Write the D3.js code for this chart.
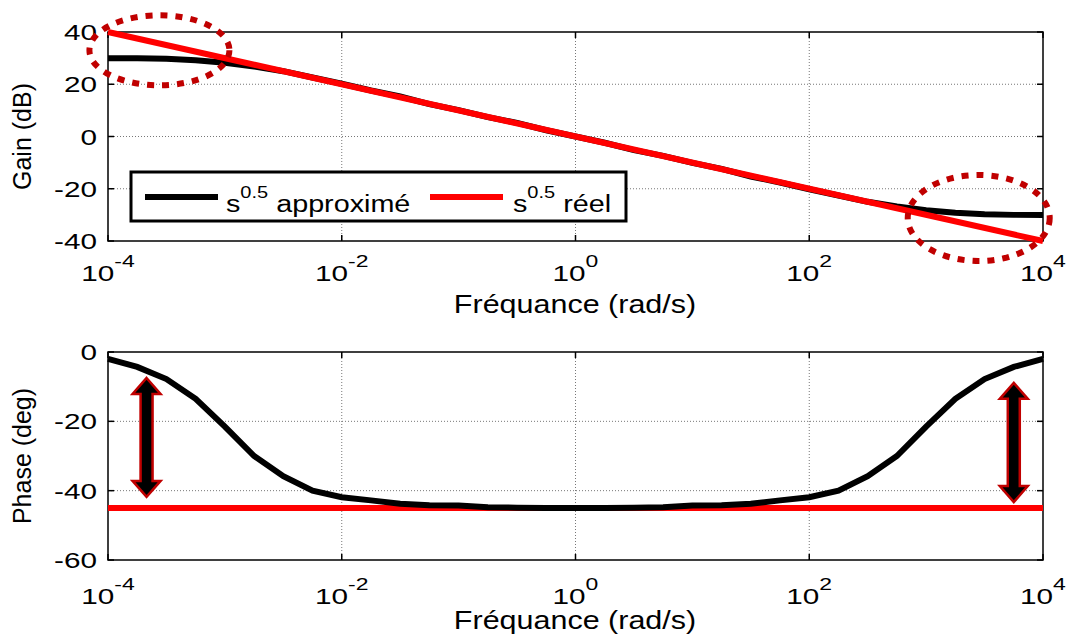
<!DOCTYPE html>
<html>
<head>
<meta charset="utf-8">
<script src="https://cdn.jsdelivr.net/npm/d3@7"></script>
<style>
  body { margin: 0; background: #fff; }
  text { font-family: "Liberation Sans", Arial, sans-serif; fill: #000; }
</style>
</head>
<body>
<div id="chart"></div>
<script>
var width = 1070;
var height = 636;

// frequency exponents (w = 10^e)
var freqExp = [-4, -3.75, -3.5, -3.25, -3, -2.75, -2.5, -2.25, -2, -1.75, -1.5, -1.25, -1, -0.75, -0.5, -0.25,
               0, 0.25, 0.5, 0.75, 1, 1.25, 1.5, 1.75, 2, 2.25, 2.5, 2.75, 3, 3.25, 3.5, 3.75, 4];

var gainApprox = [30, 30, 29.8, 29.2, 28.2, 26.8, 25.0, 22.6, 20.2, 17.6, 15.3, 12.4, 10.1, 7.4, 5.2, 2.4,
                  0, -2.4, -5.2, -7.4, -10.1, -12.4, -15.3, -17.6, -20.2, -22.6, -25.0, -26.8, -28.2, -29.2, -29.8, -30, -30];

var phaseApprox = [-2, -4.3, -7.8, -13.5, -21.5, -30, -35.8, -40, -41.9, -42.8, -43.8, -44.2, -44.3, -44.8, -44.9, -45,
                   -45, -45, -44.9, -44.8, -44.3, -44.2, -43.8, -42.8, -41.9, -40, -35.8, -30, -21.5, -13.5, -7.8, -4.3, -2];

// real s^0.5 (straight lines on log axis)
var realExp = [-4, 4];
var gainReal = [40, -40];
var phaseReal = [-45, -45];

var xTickExp = [-4, -2, 0, 2, 4];
var gainTicks = [-40, -20, 0, 20, 40];
var phaseTicks = [-60, -40, -20, 0];

var legendLabels = ["approximé", "réel"];

var svg = d3.select("#chart")
            .append("svg")
            .attr("width", width)
            .attr("height", height);

var left = 108, right = 1043;

var x = d3.scaleLog()
    .domain([1e-4, 1e4])
    .range([left, right]);

// the original figure is a bit stretched horizontally
function stretchedText(parent, px, py, sx, size, anchor) {
    return parent.append("text")
        .attr("transform", "translate(" + px + "," + py + ") scale(" + sx + ",1)")
        .attr("text-anchor", anchor)
        .style("font-size", size + "px");
}

function makePanel(top, bottom, yDomain, yTicks, gridVals, yLabel, titleY, tickLabelY) {
    var y = d3.scaleLinear().domain(yDomain).range([bottom, top]);
    var g = svg.append("g");

    // grid
    g.selectAll(".vgrid").data(xTickExp.slice(1, -1)).enter()
        .append("line")
        .attr("x1", function(d){ return x(Math.pow(10, d)); })
        .attr("x2", function(d){ return x(Math.pow(10, d)); })
        .attr("y1", top).attr("y2", bottom)
        .attr("stroke", "#777").attr("stroke-width", 1)
        .attr("stroke-dasharray", "1,2");
    g.selectAll(".hgrid").data(gridVals).enter()
        .append("line")
        .attr("x1", left).attr("x2", right)
        .attr("y1", function(d){ return y(d); })
        .attr("y2", function(d){ return y(d); })
        .attr("stroke", "#777").attr("stroke-width", 1)
        .attr("stroke-dasharray", "1,2");

    // box
    g.append("rect")
        .attr("x", left).attr("y", top)
        .attr("width", right - left).attr("height", bottom - top)
        .attr("fill", "none").attr("stroke", "#000").attr("stroke-width", 1.5);

    // ticks inside
    yTicks.forEach(function(t){
        g.append("line").attr("x1", left).attr("x2", left + 6)
            .attr("y1", y(t)).attr("y2", y(t)).attr("stroke", "#000").attr("stroke-width", 1.5);
        g.append("line").attr("x1", right).attr("x2", right - 6)
            .attr("y1", y(t)).attr("y2", y(t)).attr("stroke", "#000").attr("stroke-width", 1.5);
        stretchedText(g, 97, y(t) + 8, 1.35, 22, "end").text(t);
    });
    xTickExp.forEach(function(e){
        var px = x(Math.pow(10, e));
        g.append("line").attr("x1", px).attr("x2", px)
            .attr("y1", bottom).attr("y2", bottom - 6).attr("stroke", "#000").attr("stroke-width", 1.5);
        g.append("line").attr("x1", px).attr("x2", px)
            .attr("y1", top).attr("y2", top + 6).attr("stroke", "#000").attr("stroke-width", 1.5);
        var t = stretchedText(g, px, tickLabelY, 1.35, 22, "middle");
        t.append("tspan").text("10");
        t.append("tspan").attr("dy", -14).style("font-size", "17px").text(e);
    });

    stretchedText(g, 575, titleY, 1.22, 25, "middle").text("Fréquance (rad/s)");

    g.append("text")
        .attr("transform", "translate(31," + ((top + bottom) / 2) + ") rotate(-90)")
        .attr("text-anchor", "middle")
        .style("font-size", "25px")
        .text(yLabel);

    return y;
}

var yGain = makePanel(32, 241, [-40, 40], gainTicks, [-20, 0, 20], "Gain (dB)", 313, 281);
var yPhase = makePanel(352, 560, [-60, 0], phaseTicks, [-40, -20], "Phase (deg)", 629, 604);

var lineGain = d3.line()
    .x(function(d){ return x(Math.pow(10, d[0])); })
    .y(function(d){ return yGain(d[1]); });
var linePhase = d3.line()
    .x(function(d){ return x(Math.pow(10, d[0])); })
    .y(function(d){ return yPhase(d[1]); });

svg.append("path")
    .attr("d", lineGain(d3.zip(freqExp, gainApprox)))
    .attr("fill", "none").attr("stroke", "#000").attr("stroke-width", 6);
svg.append("path")
    .attr("d", lineGain(d3.zip(realExp, gainReal)))
    .attr("fill", "none").attr("stroke", "#ff0000").attr("stroke-width", 6);

svg.append("path")
    .attr("d", linePhase(d3.zip(realExp, phaseReal)))
    .attr("fill", "none").attr("stroke", "#ff0000").attr("stroke-width", 6);
svg.append("path")
    .attr("d", linePhase(d3.zip(freqExp, phaseApprox)))
    .attr("fill", "none").attr("stroke", "#000").attr("stroke-width", 6);

// legend
var leg = svg.append("g");
leg.append("rect")
    .attr("x", 131).attr("y", 172).attr("width", 495).attr("height", 49)
    .attr("fill", "#fff").attr("stroke", "#000").attr("stroke-width", 3);
[["#000", 145, 226], ["#ff0000", 430, 513]].forEach(function(it, i){
    leg.append("line").attr("x1", it[1]).attr("x2", it[1] + 73)
        .attr("y1", 197).attr("y2", 197)
        .attr("stroke", it[0]).attr("stroke-width", 6);
    var t = stretchedText(leg, it[2], 212, 1.25, 23, "start");
    t.append("tspan").text("s");
    t.append("tspan").attr("dy", -14).style("font-size", "16px").text("0.5");
    t.append("tspan").attr("dy", 14).text(" " + legendLabels[i]);
});

// dotted ellipses
svg.append("ellipse")
    .attr("cx", x(Math.pow(10, -3.56))).attr("cy", yGain(33))
    .attr("rx", 70).attr("ry", 35)
    .attr("fill", "none").attr("stroke", "#c00000").attr("stroke-width", 6)
    .attr("stroke-dasharray", "7,8");
svg.append("ellipse")
    .attr("cx", x(Math.pow(10, 3.45))).attr("cy", yGain(-31.2))
    .attr("rx", 71).attr("ry", 43)
    .attr("fill", "none").attr("stroke", "#c00000").attr("stroke-width", 6)
    .attr("stroke-dasharray", "7,8");

// double arrows
function dblArrow(cx, y1, y2) {
    var sw = 6, hw = 14, hl = 16;
    var pts = [
        [cx, y1], [cx + hw, y1 + hl], [cx + sw, y1 + hl], [cx + sw, y2 - hl],
        [cx + hw, y2 - hl], [cx, y2], [cx - hw, y2 - hl], [cx - sw, y2 - hl],
        [cx - sw, y1 + hl], [cx - hw, y1 + hl]
    ];
    svg.append("path")
        .attr("d", "M" + pts.join("L") + "Z")
        .attr("fill", "#000").attr("stroke", "#c00000").attr("stroke-width", 2.5)
        .attr("stroke-linejoin", "miter");
}
dblArrow(x(Math.pow(10, -3.67)), yPhase(-7.5), yPhase(-41.8));
dblArrow(x(Math.pow(10, 3.75)), yPhase(-8.9), yPhase(-43.3));
</script>
</body>
</html>
